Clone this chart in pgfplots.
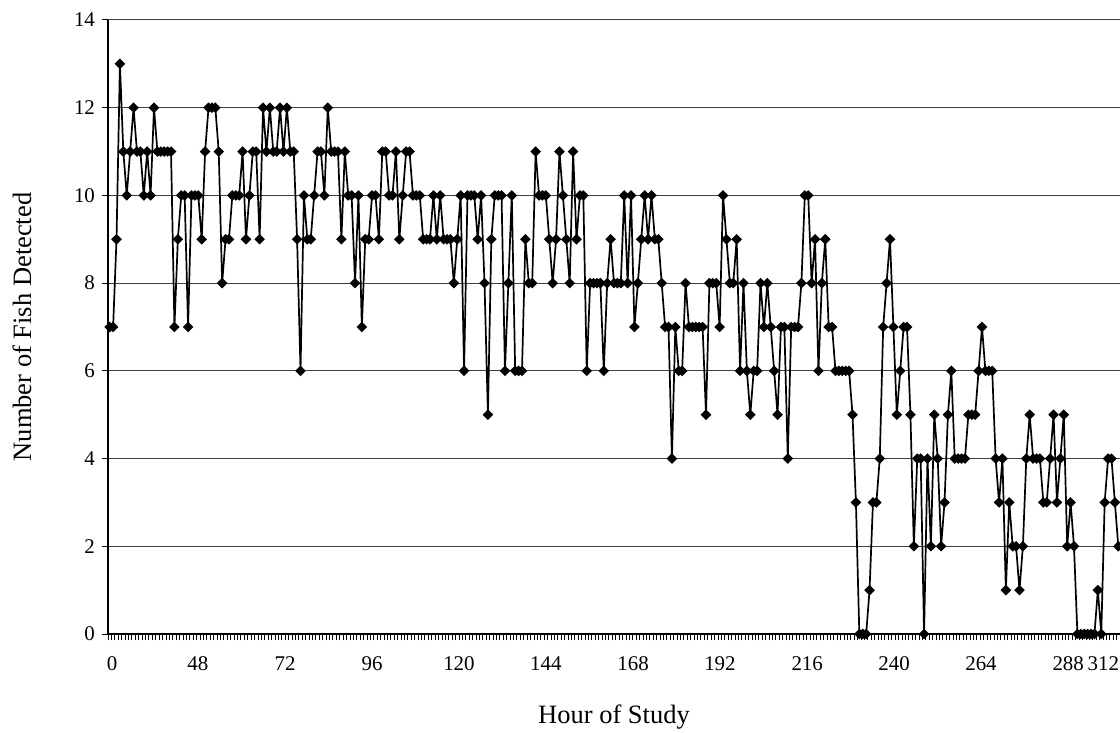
\documentclass[border=0pt]{standalone}
\usepackage{fontspec}
\setmainfont{Liberation Serif}
\usepackage{pgfplots}
\usepackage{pgfplotstable}
\pgfplotsset{compat=1.18}
\pgfplotstableread[header=false,row sep=\\]{
7\\7\\9\\13\\11\\10\\11\\12\\11\\11\\10\\11\\10\\12\\11\\11\\11\\11\\11\\7\\9\\10\\10\\7\\
10\\10\\10\\9\\11\\12\\12\\12\\11\\8\\9\\9\\10\\10\\10\\11\\9\\10\\11\\11\\9\\12\\11\\12\\11\\11\\12\\11\\12\\11\\11\\9\\
6\\10\\9\\9\\10\\11\\11\\10\\12\\11\\11\\11\\9\\11\\10\\10\\8\\10\\7\\
9\\9\\10\\10\\9\\11\\11\\10\\10\\11\\9\\10\\11\\11\\10\\10\\10\\9\\9\\9\\10\\9\\10\\
9\\9\\9\\8\\9\\10\\6\\10\\10\\10\\9\\10\\8\\5\\9\\10\\10\\10\\6\\8\\10\\6\\6\\6\\9\\8\\8\\
11\\10\\10\\10\\9\\8\\9\\11\\10\\9\\8\\11\\9\\10\\10\\6\\8\\8\\8\\8\\6\\8\\9\\8\\8\\
8\\10\\8\\10\\7\\8\\9\\10\\9\\10\\9\\9\\8\\7\\7\\4\\7\\6\\6\\8\\7\\7\\7\\7\\7\\
5\\8\\8\\8\\7\\10\\9\\8\\8\\9\\6\\8\\6\\5\\6\\6\\8\\7\\8\\7\\6\\5\\7\\7\\4\\
7\\7\\7\\8\\10\\10\\8\\9\\6\\8\\9\\7\\7\\6\\6\\6\\6\\6\\5\\
3\\0\\0\\0\\1\\3\\3\\4\\7\\8\\9\\7\\5\\6\\7\\7\\5\\2\\4\\4\\0\\4\\2\\5\\4\\2\\3\\5\\
6\\4\\4\\4\\4\\5\\5\\5\\6\\7\\6\\6\\6\\4\\3\\4\\1\\3\\2\\2\\1\\2\\4\\5\\4\\4\\4\\3\\3\\4\\5\\3\\4\\5\\2\\3\\2\\0\\0\\0\\0\\0\\0\\1\\0\\3\\4\\4\\3\\2\\
}\fish
\begin{document}
\begin{tikzpicture}
\begin{axis}[
  scale only axis,
  width=506bp, height=307bp,
  xmin=-0.5, xmax=296.5,
  ymin=0, ymax=14,
  axis x line*=bottom, axis y line*=left,
  axis line style={black, line width=0.6bp},
  ytick={0,2,...,14},
  yticklabels={0,2,4,6,8,10,12,14},
  ymajorgrids,
  grid style={black!75, line width=0.5bp},
  xtick={0.67,25.9,51.45,77,102.5,128,153.6,179.1,204.7,230.2,255.7,281.3,291.6},
  xticklabels={0,48,72,96,120,144,168,192,216,240,264,288,312},
  major x tick style={draw=none},
  minor xtick={-0.5,0.5,...,296.5},
  minor x tick style={black, line width=0.4bp},
  tick align=outside,
  major tick length=3bp,
  minor tick length=3bp,
  y tick style={black, line width=0.5bp},
  tick label style={font=\fontsize{10.5}{12}\selectfont},
  xticklabel style={yshift=-5bp},
  yticklabel style={xshift=0bp},
  xlabel={Hour of Study},
  ylabel={Number of Fish Detected},
  label style={font=\fontsize{13.3}{15}\selectfont},
  xlabel style={at={(axis description cs:0.5,-0.135)}, anchor=center},
  ylabel style={at={(axis description cs:-0.085,0.5)}, anchor=center},
  clip=false,
]
\addplot[black, line width=0.85bp, mark=square*, mark size=1.45bp,
  mark options={rotate=45, solid, fill=black}]
  table[x expr=\coordindex, y index=0] {\fish};
\end{axis}
\pgfresetboundingbox
\useasboundingbox ([shift={(-54bp,-49.5bp)}]current axis.south west) rectangle ([shift={(506bp,317bp)}]current axis.south west);
\end{tikzpicture}
\end{document}
